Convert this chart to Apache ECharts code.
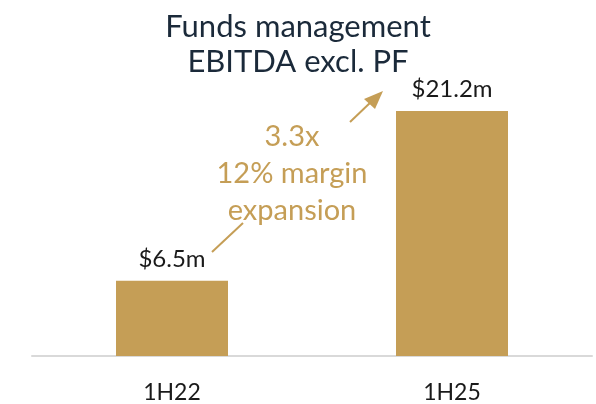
<!DOCTYPE html>
<html>
<head>
<meta charset="utf-8">
<script src="https://cdn.jsdelivr.net/npm/echarts@6/dist/echarts.min.js"></script>
<style>
  html, body { margin: 0; padding: 0; background: #fff; }
  #main { width: 596px; height: 404px; }
</style>
</head>
<body>
<div id="main"></div>
<script>
// data
var periods = ['1H22', '1H25'];
var ebitda = [6.5, 21.2];
var valueLabels = ['$6.5m', '$21.2m'];
var noteLines = ['3.3x', '12% margin', 'expansion'];

var gold = '#C59E56';
var chart = echarts.init(document.getElementById('main'));

chart.setOption({
    animation: false,
    title: {
        text: 'Funds management\nEBITDA excl. PF',
        left: 'center',
        top: 4,
        textStyle: {
            fontFamily: 'Lato',
            fontSize: 31,
            fontWeight: 'normal',
            color: '#1b2a3a',
            lineHeight: 35
        }
    },
    grid: { left: 32, right: 4, top: 67, bottom: 47 },
    xAxis: {
        type: 'category',
        data: periods,
        axisLine: { lineStyle: { color: '#d9d9d9', width: 2 } },
        axisTick: { show: false },
        axisLabel: {
            margin: 25,
            fontFamily: 'Lato',
            fontSize: 23,
            color: '#1a1a1a'
        }
    },
    yAxis: {
        type: 'value',
        min: 0,
        max: 25,
        show: false
    },
    series: [{
        type: 'bar',
        data: ebitda,
        barWidth: 112,
        itemStyle: { color: gold },
        label: {
            show: true,
            position: 'top',
            distance: 10,
            fontFamily: 'Lato',
            fontSize: 24,
            color: '#1a1a1a',
            formatter: function (p) { return valueLabels[p.dataIndex]; }
        }
    }],
    graphic: [
        {
            type: 'text',
            x: 292,
            y: 118,
            style: {
                text: noteLines.join('\n'),
                fill: gold,
                font: '29px Lato',
                textAlign: 'center',
                lineHeight: 37
            }
        },
        {
            type: 'line',
            shape: { x1: 212, y1: 252, x2: 243, y2: 223 },
            style: { stroke: gold, lineWidth: 2 }
        },
        {
            type: 'line',
            shape: { x1: 350, y1: 122, x2: 372, y2: 101 },
            style: { stroke: gold, lineWidth: 2 }
        },
        {
            type: 'polygon',
            shape: { points: [[383, 91], [364, 99], [375, 109]] },
            style: { fill: gold }
        }
    ]
});
</script>
</body>
</html>
